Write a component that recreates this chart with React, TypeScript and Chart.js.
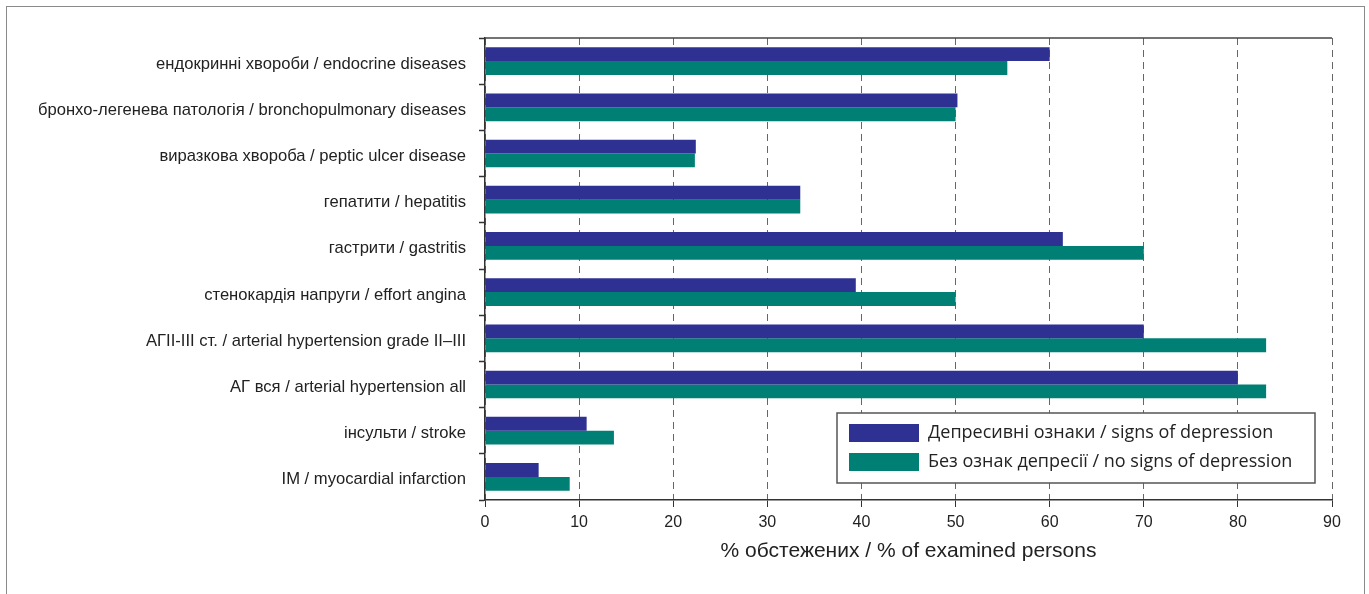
import React, { useEffect, useRef } from 'react';
import { Chart, registerables } from 'chart.js';

Chart.register(...registerables);

const categories = [
  'ендокринні хвороби / endocrine diseases',
  'бронхо-легенева патологія / bronchopulmonary diseases',
  'виразкова хвороба / peptic ulcer disease',
  'гепатити / hepatitis',
  'гастрити / gastritis',
  'стенокардія напруги / effort angina',
  'АГII-III ст. / arterial hypertension grade II–III',
  'АГ вся / arterial hypertension all',
  'інсульти / stroke',
  'ІМ / myocardial infarction',
];

const depressionLabel = 'Депресивні ознаки / signs of depression';
const noDepressionLabel = 'Без ознак депресії / no signs of depression';

const depressionValues = [60, 50.2, 22.4, 33.5, 61.4, 39.4, 70, 80, 10.8, 5.7];
const noDepressionValues = [55.5, 50, 22.3, 33.5, 70, 50, 83, 83, 13.7, 9];

const xMin = 0;
const xMax = 90;
const xStep = 10;
const xTitle = '% обстежених / % of examined persons';

const BLUE = '#2e3192';
const TEAL = '#008075';

const boxLegendPlugin = {
  id: 'boxLegend',
  afterDraw(chart: any) {
    const { ctx, chartArea } = chart;
    const right = chartArea.right - 17;
    const bottom = chartArea.bottom - 17;
    const w = 478;
    const h = 70;
    const left = right - w;
    const top = bottom - h;
    ctx.save();
    ctx.fillStyle = '#ffffff';
    ctx.fillRect(left, top, w, h);
    ctx.strokeStyle = '#555555';
    ctx.lineWidth = 1.5;
    ctx.strokeRect(left, top, w, h);
    const rows = chart.data.datasets;
    ctx.font = '18px "Open Sans", sans-serif';
    ctx.textBaseline = 'middle';
    ctx.textAlign = 'left';
    rows.forEach((ds: any, i: number) => {
      const cy = top + 20 + i * 29;
      ctx.fillStyle = ds.backgroundColor;
      ctx.fillRect(left + 12, cy - 9, 70, 18);
      ctx.fillStyle = '#222222';
      ctx.fillText(ds.label, left + 91, cy);
    });
    // top frame line of plot area
    ctx.strokeStyle = '#444444';
    ctx.lineWidth = 1.5;
    ctx.beginPath();
    ctx.moveTo(chartArea.left, chartArea.top);
    ctx.lineTo(chartArea.right, chartArea.top);
    ctx.stroke();
    ctx.restore();
  },
};

function BarChart() {
  const ref = useRef<HTMLCanvasElement | null>(null);
  useEffect(() => {
    if (!ref.current) return;
    const chart = new Chart(ref.current, {
      type: 'bar',
      data: {
        labels: categories,
        datasets: [
          {
            label: depressionLabel,
            data: depressionValues,
            backgroundColor: BLUE,
            categoryPercentage: 0.6,
            barPercentage: 1.0,
          },
          {
            label: noDepressionLabel,
            data: noDepressionValues,
            backgroundColor: TEAL,
            categoryPercentage: 0.6,
            barPercentage: 1.0,
          },
        ],
      },
      options: {
        indexAxis: 'y',
        responsive: false,
        animation: false,
        layout: { padding: { top: 38, right: 37, left: 0, bottom: 0 } },
        plugins: {
          legend: { display: false },
          tooltip: { enabled: false },
        },
        scales: {
          x: {
            min: xMin,
            max: xMax,
            ticks: {
              stepSize: xStep,
              color: '#222222',
              font: { family: '"Liberation Sans", Arial, sans-serif', size: 16 },
              padding: 6,
            },
            grid: {
              color: '#666666',
              lineWidth: 1,
              tickBorderDash: [],
              tickColor: '#333333',
              tickLength: 7,
              drawTicks: true,
            },
            border: { display: true, color: '#333333', width: 1.5, dash: [7, 5] },
            title: {
              display: true,
              text: xTitle,
              color: '#222222',
              font: { family: '"Liberation Sans", Arial, sans-serif', size: 21 },
              padding: { top: 0, bottom: 30 },
            },
            afterFit(scale: any) {
              scale.height = 94;
            },
          },
          y: {
            ticks: {
              color: '#222222',
              font: { family: '"Liberation Sans", Arial, sans-serif', size: 16.6 },
              padding: 13,
              labelOffset: 3,
            },
            grid: {
              offset: true,
              drawOnChartArea: false,
              drawTicks: true,
              tickLength: 6,
              tickColor: '#333333',
              tickWidth: 1.5,
            },
            border: { display: true, color: '#333333', width: 1.5 },
            afterFit(scale: any) {
              scale.width = 485;
            },
          },
        },
      },
      plugins: [boxLegendPlugin],
    } as any);
    return () => chart.destroy();
  }, []);
  return <canvas ref={ref} width={1369} height={594} style={{ display: 'block' }} />;
}

export default function App() {
  return (
    <div style={{ position: 'absolute', left: 0, top: 0, width: 1369, height: 594, overflow: 'hidden', background: '#fff' }}>
      <div
        style={{
          position: 'absolute',
          left: 6,
          top: 6,
          width: 1359,
          height: 620,
          border: '1px solid #8a8a8a',
          boxSizing: 'border-box',
        }}
      />
      <div style={{ position: 'absolute', left: 0, top: 0 }}>
        <BarChart />
      </div>
    </div>
  );
}
